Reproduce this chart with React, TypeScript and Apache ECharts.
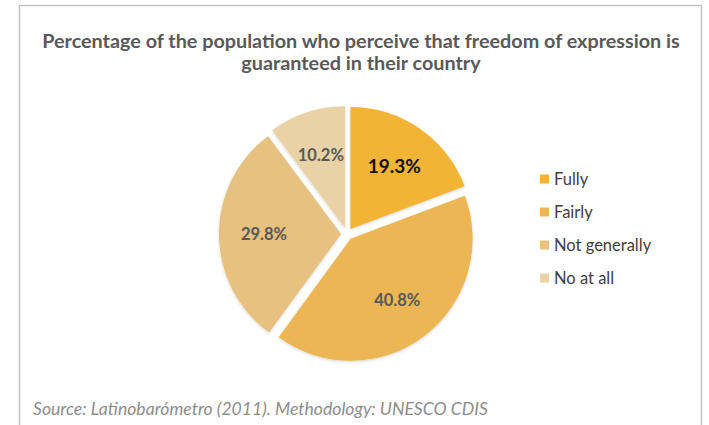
import React, { useEffect, useRef } from "react";
import * as echarts from "echarts";

const titleLines = [
  "Percentage of the population who perceive that freedom of expression is",
  "guaranteed in their country",
];
const sourceText = "Source: Latinobarómetro (2011). Methodology: UNESCO CDIS";
const categories = ["Fully", "Fairly", "Not generally", "No at all"];
const values = [19.3, 40.8, 29.8, 10.2];
const colors = ["#F1B434", "#EBB653", "#E6C17F", "#E9D2A5"];

const FONT = "Lato, 'Open Sans', sans-serif";

export default function App() {
  const ref = useRef<HTMLDivElement>(null);
  useEffect(() => {
    if (!ref.current) return;
    const chart = echarts.init(ref.current, null, { renderer: "svg" });
    const center = [347, 234];
    chart.setOption({
      animation: false,
      backgroundColor: "#ffffff",
      textStyle: { fontFamily: FONT },
      legend: {
        data: categories,
        orient: "vertical",
        left: 535,
        top: 165,
        icon: "rect",
        itemWidth: 9,
        itemHeight: 9,
        itemGap: 15,
        selectedMode: false,
        textStyle: { fontFamily: FONT, fontSize: 16.5, color: "#404040", lineHeight: 18 },
      },
      series: [
        {
          type: "pie",
          name: "slices",
          center,
          radius: 122,
          startAngle: 90,
          clockwise: true,
          selectedMode: "multiple",
          selectedOffset: 6,
          silent: true,
          label: { show: false },
          labelLine: { show: false },
          itemStyle: {
            shadowBlur: 3,
            shadowColor: "rgba(0,0,0,0.18)",
            shadowOffsetY: 1,
          },
          data: categories.map((name, i) => ({
            name,
            value: values[i],
            selected: true,
            itemStyle: { color: colors[i] },
          })),
        },
        {
          type: "pie",
          name: "labels",
          center,
          radius: [32, 116],
          startAngle: 90,
          clockwise: true,
          selectedMode: "multiple",
          selectedOffset: 6,
          silent: true,
          itemStyle: { color: "rgba(0,0,0,0)" },
          labelLine: { show: false },
          label: {
            show: true,
            position: "inside",
            fontFamily: FONT,
            fontWeight: "bold",
            fontSize: 16.5,
            color: "#595959",
            padding: [8, 0, 0, 0],
            formatter: (p: any) => `${Number(p.value).toFixed(1)}%`,
          },
          data: categories.map((name, i) => ({
            name,
            value: values[i],
            selected: true,
            label: i === 0 ? { fontSize: 19, color: "#111111" } : undefined,
          })),
        },
      ],
      graphic: [
        {
          type: "rect",
          shape: { x: 19.5, y: 5.5, width: 682, height: 440 },
          style: { fill: "none", stroke: "#c4c4c4", lineWidth: 1.5 },
          silent: true,
        },
        {
          type: "text",
          x: 361,
          y: 29,
          style: {
            text: titleLines.join("\n"),
            textAlign: "center",
            textVerticalAlign: "top",
            fontFamily: FONT,
            fontWeight: "bold",
            fontSize: 19.8,
            lineHeight: 22,
            fill: "#595959",
          },
        },
        {
          type: "text",
          x: 33,
          y: 408,
          style: {
            text: sourceText,
            textAlign: "left",
            textVerticalAlign: "middle",
            fontFamily: FONT,
            fontStyle: "italic",
            fontSize: 17.6,
            fill: "#8c8c8c",
          },
        },
      ],
    });
    return () => chart.dispose();
  }, []);
  return (
    <div
      ref={ref}
      style={{ position: "absolute", left: 0, top: 0, width: 709, height: 425 }}
    />
  );
}
